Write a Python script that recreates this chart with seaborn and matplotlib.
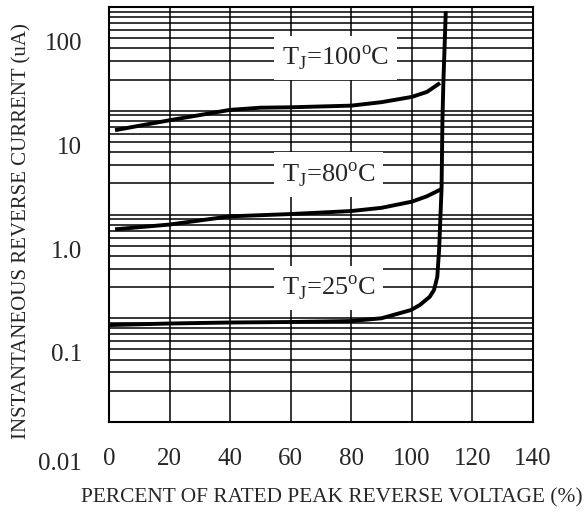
import numpy as np
import pandas as pd
import matplotlib
matplotlib.use("Agg")
import matplotlib.pyplot as plt
import seaborn as sns

# Values
volt_100 = [2, 20, 40, 50, 60, 80, 90, 100, 105, 109.3]
curr_100 = [6.5, 8.1, 10.2, 10.7, 10.8, 11.2, 12.1, 13.6, 15.2, 18.5]

volt_80 = [2, 20, 40, 60, 80, 90, 100, 105, 109.8]
curr_80 = [0.72, 0.80, 0.96, 1.01, 1.08, 1.16, 1.33, 1.5, 1.76]

volt_25 = [0, 20, 40, 60, 80, 90, 99.7, 102.6, 105.9, 107.3, 107.9, 108.4,
           108.7, 109.0, 109.8, 110.1, 110.4, 111.2]
curr_25 = [0.086, 0.089, 0.091, 0.092, 0.094, 0.1, 0.12, 0.134, 0.161, 0.187,
           0.219, 0.251, 0.341, 0.455, 1.76, 8.1, 18.5, 91]

x_ticks = [0, 20, 40, 60, 80, 100, 120, 140]
y_ticks = [100, 10, 1, 0.1, 0.01]
y_labels = ["100", "10", "1.0", "0.1", "0.01"]

curve_labels = [r"T$_\mathregular{J}$=100$^\mathregular{o}$C",
                r"T$_\mathregular{J}$=80$^\mathregular{o}$C",
                r"T$_\mathregular{J}$=25$^\mathregular{o}$C"]
label_y = [27.6, 2.07, 0.1675]

sns.set_theme(style="white")
plt.rcParams["font.family"] = ["Liberation Serif", "DejaVu Serif"]
plt.rcParams["mathtext.fontset"] = "custom"
plt.rcParams["mathtext.rm"] = "Liberation Serif"

df = pd.concat([
    pd.DataFrame({"volt": volt_100, "curr": curr_100, "tj": "100"}),
    pd.DataFrame({"volt": volt_80, "curr": curr_80, "tj": "80"}),
    pd.DataFrame({"volt": volt_25, "curr": curr_25, "tj": "25"}),
])

fig = plt.figure(figsize=(5.85, 5.12), dpi=100)
ax = fig.add_axes([109 / 585, 90 / 512, 424 / 585, 415 / 512])

for tj in ["100", "80", "25"]:
    sns.lineplot(data=df[df.tj == tj], x="volt", y="curr", sort=False,
                 estimator=None, color="black", linewidth=2.8, ax=ax,
                 solid_joinstyle="round", solid_capstyle="butt")

ax.set_yscale("log")
ax.set_xlim(0, 140)
ax.set_ylim(0.01, 100)
ax.set_xticks(x_ticks)
ax.set_xticklabels([str(v) for v in x_ticks])
ax.tick_params(axis="x", length=0, pad=19, labelsize=18)
ax.set_yticks(y_ticks)
ax.yaxis.set_minor_locator(matplotlib.ticker.LogLocator(base=10, subs=np.arange(2, 10)))
ax.tick_params(axis="y", which="both", length=0, labelleft=False)
ax.set_xlabel("")
ax.set_ylabel("")

ax.set_axisbelow(True)
ax.grid(True, axis="x", color="black", linewidth=1.1)
ax.grid(True, axis="y", which="both", color="black", linewidth=1.1)
for s in ax.spines.values():
    s.set_color("black")
    s.set_linewidth(1.5)

# y labels sit a bit below their grid lines in the original
for v, lab in zip(y_ticks, y_labels):
    dy = -42 if v == 0.01 else -37
    ax.annotate(lab, xy=(0, v), xycoords=("axes fraction", "data"),
                xytext=(-27, dy), textcoords="offset pixels",
                ha="right", va="center", fontsize=18)

for lab, yv in zip(curve_labels, label_y):
    ax.text(57, yv, lab, ha="left", va="baseline", fontsize=19, zorder=4,
            bbox=dict(boxstyle="square,pad=0.3", facecolor="white",
                      edgecolor="none"))

fig.text(331.5 / 585, 1 - 498 / 512, "PERCENT OF RATED PEAK REVERSE VOLTAGE (%)",
         ha="center", va="center", fontsize=15.4)
fig.text(22 / 585, 1 - 231 / 512, "INSTANTANEOUS REVERSE CURRENT (uA)",
         ha="center", va="center", rotation=90, fontsize=15)

fig.savefig("out.png", dpi=100)
